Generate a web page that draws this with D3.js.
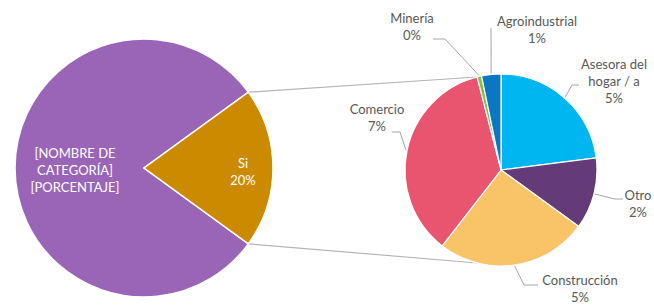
<!DOCTYPE html>
<html lang="es">
<head>
<meta charset="UTF-8">
<title>Pie of pie</title>
<script src="https://d3js.org/d3.v7.min.js"></script>
<style>
  body { margin: 0; background: #fff; }
  text { font-family: Lato, "Open Sans", sans-serif; font-size: 13px; }
</style>
</head>
<body>
<svg id="chart" width="654" height="305"></svg>
<script>
// main pie
var mainNames = ["No", "Si"];
var mainValues = [80, 20];
var mainLabels = [["[NOMBRE DE", "CATEGORÍA]", "[PORCENTAJE]"], ["Si", "20%"]];

// breakdown of "Si" (percent of total)
var subNames = ["Asesora del hogar / a", "Otro", "Construcción", "Comercio", "Minería", "Agroindustrial"];
var subValues = [4.6, 2.4, 5.1, 7.1, 0.15, 0.65];
var subLabels = [["Asesora del", "hogar / a", "5%"], ["Otro", "2%"], ["Construcción", "5%"],
                 ["Comercio", "7%"], ["Minería", "0%"], ["Agroindustrial", "1%"]];

var mainColors = ["#9A65B7", "#CC8A00"];
var subColors = ["#00B6F0", "#643B78", "#F9C468", "#E9556F", "#7DC242", "#0A76C4"];

var svg = d3.select("#chart");
var lineH = 17;

// left pie: "Si" slice centred on 3 o'clock
var L = {cx: 144, cy: 168, r: 129};
var siSpan = mainValues[1] / d3.sum(mainValues) * 2 * Math.PI;
var mainPie = d3.pie().sort(null)
    .startAngle(Math.PI / 2 + siSpan / 2)
    .endAngle(Math.PI / 2 + siSpan / 2 + 2 * Math.PI);
var mainArcs = mainPie(mainValues);
var mainArc = d3.arc().innerRadius(0).outerRadius(L.r);

// right pie
var R = {cx: 501, cy: 170, r: 96};
var subArcs = d3.pie().sort(null)(subValues);
var subArc = d3.arc().innerRadius(0).outerRadius(R.r);

function pt(c, r, a) { return [c.cx + r * Math.sin(a), c.cy - r * Math.cos(a)]; }

// connector lines: top and bottom edge of "Si" to the second pie
var siArc = mainArcs[1];
var topAngle = subArcs[4].startAngle;
var links = [
  [pt(L, L.r, siArc.startAngle), pt(R, R.r, topAngle)],
  [pt(L, L.r, siArc.endAngle), pt(R, R.r, 3 * Math.PI - topAngle)]
];
svg.selectAll(".link").data(links).join("line")
    .attr("class", "link")
    .attr("x1", d => d[0][0]).attr("y1", d => d[0][1])
    .attr("x2", d => d[1][0]).attr("y2", d => d[1][1])
    .attr("stroke", "#B5B5B5").attr("stroke-width", 1.2);

svg.append("g").attr("transform", `translate(${L.cx},${L.cy})`)
  .selectAll("path").data(mainArcs).join("path")
    .attr("d", mainArc)
    .attr("fill", (d, i) => mainColors[i])
    .attr("stroke", "#fff").attr("stroke-width", 1.5);

svg.append("g").attr("transform", `translate(${R.cx},${R.cy})`)
  .selectAll("path").data(subArcs).join("path")
    .attr("d", subArc)
    .attr("fill", (d, i) => subColors[i])
    .attr("stroke", "#fff").attr("stroke-width", 1.2);

// labels inside left pie
var mainLabelPos = [[75, 153], [243, 163]];
mainLabels.forEach(function(lines, i) {
  svg.append("text")
    .attr("text-anchor", "middle").attr("fill", "#fff")
    .selectAll("tspan").data(lines).join("tspan")
      .attr("x", mainLabelPos[i][0])
      .attr("y", (d, j) => mainLabelPos[i][1] + j * lineH + 4.5)
      .text(d => d);
});

// right pie labels with leader lines: label centre, elbow, end of leader
var subLabelPos = [
  {x: 614, y: 64,  elbow: [572, 85],  end: [579, 85]},
  {x: 638, y: 195, elbow: [615, 199], end: [623, 199]},
  {x: 580, y: 280, elbow: [524, 285], end: [538, 285]},
  {x: 377, y: 109, elbow: [400, 132], end: [392, 132]},
  {x: 412, y: 18,  elbow: [445, 39],  end: [433, 39]},
  {x: 537, y: 21,  elbow: [491, 30],  end: [491, 28]}
];

subArcs.forEach(function(a, i) {
  var p = subLabelPos[i];
  var mid = (a.startAngle + a.endAngle) / 2;
  var edge = pt(R, R.r + 1, mid);
  svg.append("polyline")
    .attr("points", [edge, p.elbow, p.end].map(q => q.join(",")).join(" "))
    .attr("fill", "none").attr("stroke", "#A6A6A6").attr("stroke-width", 1);
  svg.append("text")
    .attr("text-anchor", "middle").attr("fill", "#595959")
    .selectAll("tspan").data(subLabels[i]).join("tspan")
      .attr("x", p.x)
      .attr("y", (d, j) => p.y + j * lineH + 4.5)
      .text(d => d);
});
</script>
</body>
</html>
